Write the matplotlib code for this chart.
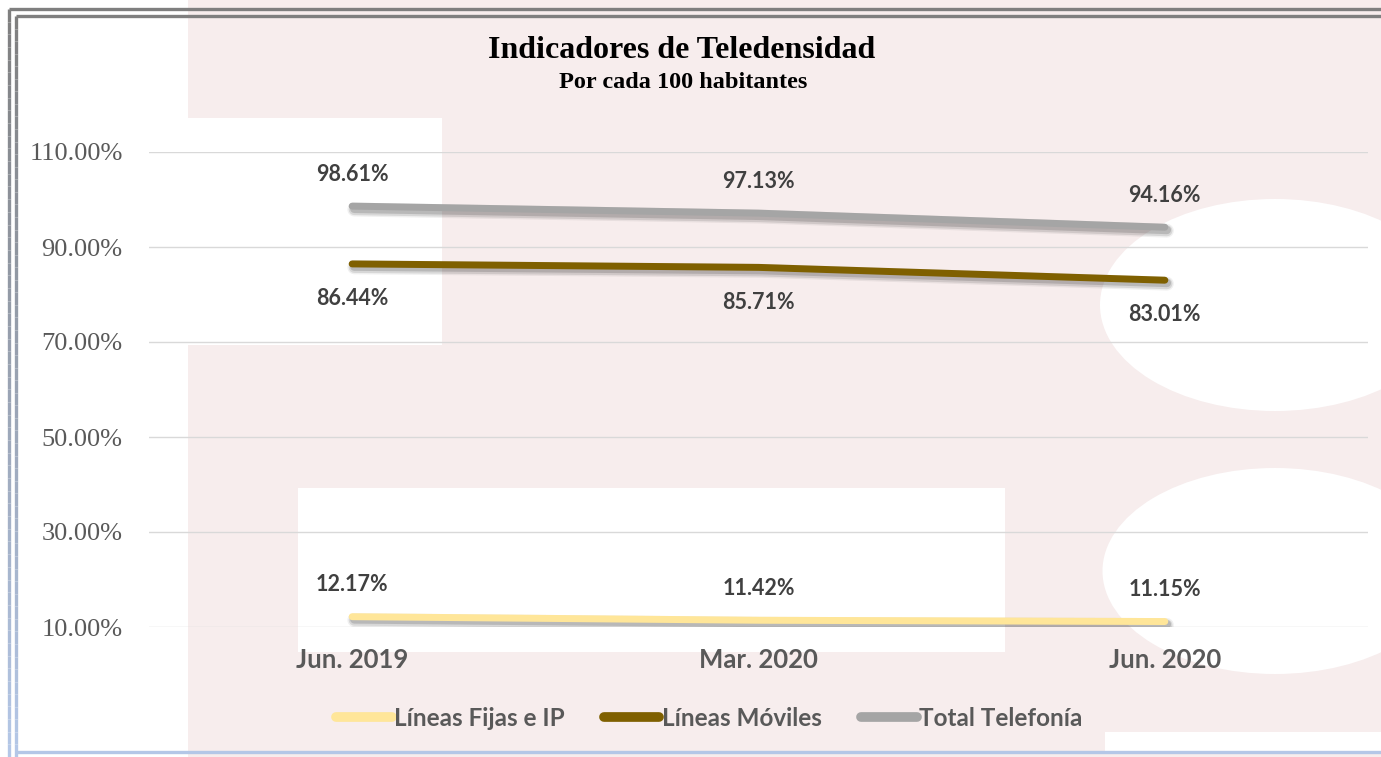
import matplotlib
matplotlib.use('Agg')
import matplotlib.pyplot as plt
from matplotlib import patheffects as pe
from matplotlib.patches import Rectangle, Ellipse
from matplotlib.collections import LineCollection
import matplotlib.colors as mcolors
import numpy as np

categories = ['Jun. 2019', 'Mar. 2020', 'Jun. 2020']
series_names = ['Líneas Fijas e IP', 'Líneas Móviles', 'Total Telefonía']
fijas = [12.17, 11.42, 11.15]
moviles = [86.44, 85.71, 83.01]
total = [98.61, 97.13, 94.16]
yticks = [10, 30, 50, 70, 90, 110]

W, H = 1381, 757
fig = plt.figure(figsize=(W / 100, H / 100), dpi=100)
fig.patch.set_facecolor('white')

# background decoration layer (pixel coordinates)
bg = fig.add_axes([0, 0, 1, 1], zorder=0)
bg.set_xlim(0, W)
bg.set_ylim(H, 0)
bg.axis('off')
pink = '#f7eded'
bg.add_patch(Rectangle((188, 0), W - 188, H, color=pink, lw=0))
bg.add_patch(Rectangle((188, 118), 254, 227, color='white', lw=0))
bg.add_patch(Rectangle((298, 488), 707, 164, color='white', lw=0))
bg.add_patch(Ellipse((1275, 305), 350, 212, color='white', lw=0))
bg.add_patch(Ellipse((1275, 571), 345, 206, color='white', lw=0))
bg.add_patch(Rectangle((1105, 732), W - 1105, 20, color='white', lw=0))

# frame
top_col = np.array(mcolors.to_rgb('#7f7f7f'))
bot_col = np.array(mcolors.to_rgb('#b4c7e7'))
for xline, ystart in [(9, 9), (16, 16)]:
    ys = np.linspace(ystart, H, 60)
    segs = [[(xline, ys[i]), (xline, ys[i + 1])] for i in range(len(ys) - 1)]
    cols = [top_col + (bot_col - top_col) * (i / (len(ys) - 2)) for i in range(len(ys) - 1)]
    bg.add_collection(LineCollection(segs, colors=cols, linewidths=2.4, capstyle='butt'))
    bg.plot([xline, W], [ystart, ystart], color='#7f7f7f', lw=2.4, solid_capstyle='butt')
bg.plot([16, W], [752, 752], color='#b4c7e7', lw=2.4, solid_capstyle='butt')

# main chart
ax = fig.add_axes([149 / W, 1 - 627 / H, 1219 / W, 475 / H], zorder=1)
ax.set_facecolor('none')
x = np.arange(len(categories))
ax.set_xlim(-0.5, len(categories) - 0.5)
ax.set_ylim(10, 110)
ax.set_yticks(yticks)
ax.set_yticklabels([f'{v:.2f}%' for v in yticks], fontfamily='Liberation Serif',
                   fontsize=19, color='#595959')
ax.set_xticks(x)
ax.set_xticklabels(categories, fontfamily='Lato', fontweight='bold', fontsize=18.5,
                   color='#595959')
ax.tick_params(axis='both', length=0)
ax.tick_params(axis='y', pad=19)
ax.tick_params(axis='x', pad=15)
for s in ax.spines.values():
    s.set_visible(False)
ax.grid(axis='y', color='#d9d9d9', lw=1.0)
ax.set_axisbelow(True)

shadow = [pe.SimpleLineShadow(offset=(1.5, -2.5), shadow_color='black', alpha=0.06, linewidth=10),
          pe.SimpleLineShadow(offset=(1.5, -2.5), shadow_color='black', alpha=0.10, linewidth=8),
          pe.SimpleLineShadow(offset=(1.5, -2.0), shadow_color='black', alpha=0.14, linewidth=6),
          pe.Normal()]
colors = ['#ffe699', '#7f6000', '#a5a5a5']
data = [fijas, moviles, total]
offsets = [23, -25, 23]
for name, vals, col, off in zip(series_names, data, colors, offsets):
    ax.plot(x, vals, color=col, lw=5, solid_capstyle='round', label=name,
            path_effects=shadow, zorder=3)
    for xi, v in zip(x, vals):
        ax.annotate(f'{v:.2f}%', (xi, v), xytext=(0, off), textcoords='offset points',
                    ha='center', va='center', fontfamily='Lato', fontweight='bold',
                    fontsize=15.5, color='#404040')

handles, labels = ax.get_legend_handles_labels()
leg = fig.legend(handles, labels, loc='center', bbox_to_anchor=(709 / W, 1 - 718 / H), ncol=3,
                 frameon=False, handlelength=2.3, handletextpad=0.1, columnspacing=1.6,
                 prop={'family': 'Lato', 'weight': 'bold', 'size': 17.5})
for t in leg.get_texts():
    t.set_color('#595959')
for h in leg.legend_handles:
    h.set_path_effects([])
    h.set_linewidth(7)

fig.text(682 / W, 1 - 58 / H, 'Indicadores de Teledensidad', ha='center', va='baseline',
         fontfamily='Liberation Serif', fontweight='bold', fontsize=23, color='black')
fig.text(683 / W, 1 - 88 / H, 'Por cada 100 habitantes', ha='center', va='baseline',
         fontfamily='Liberation Serif', fontweight='bold', fontsize=17.5, color='black')

fig.savefig('out.png', dpi=100)
